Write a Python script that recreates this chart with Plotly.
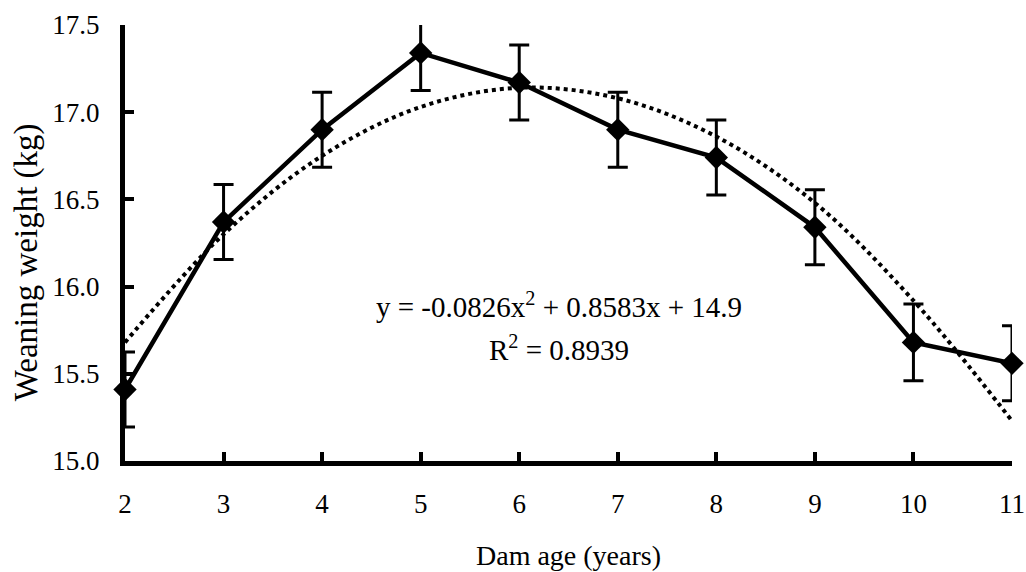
import plotly.graph_objects as go

dam_age = [2, 3, 4, 5, 6, 7, 8, 9, 10, 11]
weaning_weight = [15.41, 16.37, 16.90, 17.34, 17.17, 16.90, 16.74, 16.34, 15.68, 15.56]
error_sd = [0.215, 0.215, 0.215, 0.215, 0.215, 0.215, 0.215, 0.215, 0.22, 0.215]
trend_values = [15.68, 16.30, 16.75, 17.03, 17.14, 17.08, 16.86, 16.48, 15.92, 15.23]
y_ticks = [15.0, 15.5, 16.0, 16.5, 17.0, 17.5]

FONT = "Liberation Serif, Times New Roman, serif"

fig = go.Figure()
fig.add_trace(go.Scatter(
    x=dam_age, y=trend_values, mode="lines",
    line=dict(color="black", width=4, dash="dot", shape="spline"),
    cliponaxis=False, showlegend=False, hoverinfo="skip"))
fig.add_trace(go.Scatter(
    x=dam_age, y=weaning_weight, mode="lines+markers",
    line=dict(color="black", width=4.5),
    marker=dict(symbol="diamond", size=18, color="black"),
    error_y=dict(type="data", array=error_sd, visible=True,
                 color="black", thickness=3, width=10),
    cliponaxis=False, showlegend=False))

fig.add_annotation(
    x=0.489, y=0.312, xref="paper", yref="paper",
    text="y = -0.0826x<sup>2</sup> + 0.8583x + 14.9",
    showarrow=False, align="center",
    font=dict(family=FONT, size=29, color="black"))
fig.add_annotation(
    x=0.489, y=0.213, xref="paper", yref="paper",
    text="R<sup>2</sup> = 0.8939",
    showarrow=False, align="center",
    font=dict(family=FONT, size=29, color="black"))
# y-axis title (placed slightly below centre, as in the reference)
fig.add_annotation(
    x=-0.1116, y=0.456, xref="paper", yref="paper",
    text="Weaning weight (kg)", textangle=-90,
    showarrow=False, xanchor="center", yanchor="middle",
    font=dict(family=FONT, size=33, color="black"))

fig.update_layout(
    width=1026, height=572,
    margin=dict(l=125, r=14, t=25, b=111),
    paper_bgcolor="white", plot_bgcolor="white",
    font=dict(family=FONT, size=27, color="black"),
    xaxis=dict(
        range=[2, 11], tickvals=dam_age, ticktext=[str(a) for a in dam_age],
        ticks="inside", ticklen=9, tickwidth=4, tickcolor="black",
        showline=True, linecolor="black", linewidth=5,
        showgrid=False, zeroline=False, automargin=False,
        ticklabelstandoff=15,
        title=dict(text="Dam age (years)", font=dict(family=FONT, size=28), standoff=28),
        tickfont=dict(family=FONT, size=27)),
    yaxis=dict(
        range=[15.0, 17.5], tickvals=y_ticks, ticktext=[f"{v:.1f}" for v in y_ticks],
        ticks="inside", ticklen=9, tickwidth=4, tickcolor="black",
        showline=True, linecolor="black", linewidth=5,
        showgrid=False, zeroline=False, automargin=False,
        ticklabelstandoff=15,
        tickfont=dict(family=FONT, size=27)),
)

fig.write_html("out.html", config={"displayModeBar": False},
               post_script="document.body.style.margin='0';")
